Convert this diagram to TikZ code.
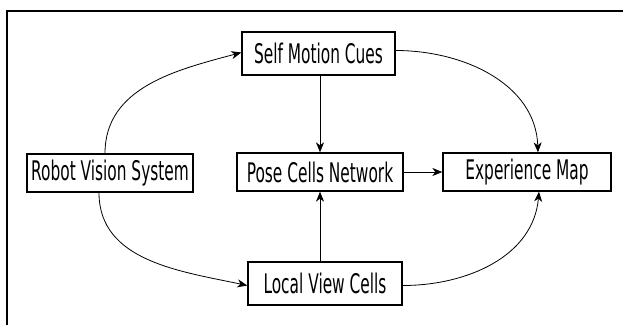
\documentclass[tikz,border=0pt]{standalone}
\usepackage{fontspec}
\setmainfont{DejaVu Sans}[FakeStretch=0.57]
\usetikzlibrary{arrows.meta}

\begin{document}
\begin{tikzpicture}[x=1pt, y=1pt,
  box/.style={draw, line width=1.3pt, minimum height=38pt, inner sep=0pt,
    font=\fontsize{27}{30}\selectfont},
  link/.style={-{Stealth[length=10pt, width=8pt, inset=3pt]}, line width=0.8pt}]
  \useasboundingbox (0,0) rectangle (623,325);
  % frame (top and left edges only)
  \draw[line width=1.6pt] (623,314) -- (7,314) -- (7,0);
  % blocks
  \node[box, minimum width=153pt, minimum height=43pt] (self) at (318.5,271.5) {Self Motion Cues};
  \node[box, minimum width=166pt] (robot) at (110,152) {Robot Vision System};
  \node[box, minimum width=166pt] (pose) at (320,153) {Pose Cells Network};
  \node[box, minimum width=168pt] (exp) at (527,153) {Experience Map};
  \node[box, minimum width=154pt, minimum height=43pt] (local) at (325,41.5) {Local View Cells};
  % straight links
  \draw[link] (self.south -| pose.north) -- (pose.north);
  \draw[link] (local.north -| pose.south) -- (pose.south);
  \draw[link] (pose.east) -- (exp.west);
  % curved links
  \draw[link] ([xshift=-5pt]robot.north) to[out=90, in=195] ([yshift=1pt]self.west);
  \draw[link] ([xshift=-11pt]robot.south) to[out=-90, in=168] ([yshift=-2pt]local.west);
  \draw[link] ([yshift=3pt]self.east) to[out=0, in=92] ([xshift=11pt]exp.north);
  \draw[link] ([yshift=-2pt]local.east) to[out=0, in=-95] ([xshift=12pt]exp.south);
\end{tikzpicture}
\end{document}
